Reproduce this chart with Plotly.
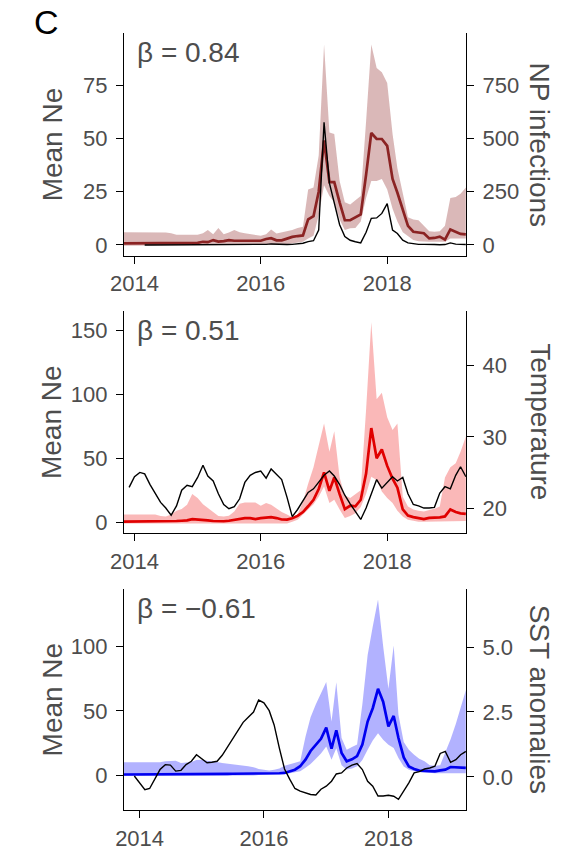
import pandas as pd
import plotly.graph_objects as go

# ---------------- time axes ----------------
months_a = pd.date_range("2013-11-01", periods=66, freq="MS")   # panels 1 and 2
months_b = pd.date_range("2013-10-01", periods=67, freq="MS")   # panel 3
year_ticks = ["2014-01-01", "2016-01-01", "2018-01-01"]
year_labels = ["2014", "2016", "2018"]

# ---------------- panel 1: NP infections ----------------
ne1_mean = [0.8, 0.8, 0.8, 0.8, 0.8, 0.8, 0.8, 0.8, 0.8, 0.8, 0.8, 0.8,
            0.9, 1.0, 1.0, 1.5, 1.3, 2.3, 1.6, 1.8, 2.3, 2.0, 2.0, 2.0, 2.0, 2.0,
            2.0, 2.8, 3.2, 2.2, 2.2, 3.0, 3.8, 4.2, 4.5, 12.0, 13.5, 25.0,
            49.0, 29.5, 29.5, 20.0, 11.6, 11.6, 13.0, 14.3, 33.0, 52.5, 49.7, 49.7,
            46.5, 31.0, 24.5, 17.0, 9.0, 6.2, 6.0, 5.5, 3.1, 3.3, 3.9, 2.5, 7.3, 6.0, 5.2, 5.0]
ne1_upper = [6.0, 6.0, 6.0, 6.0, 6.0, 6.0, 6.0, 6.0, 5.8, 5.5, 4.8, 4.8, 4.8, 4.8, 4.8,
             5.5, 7.0, 5.0, 8.0, 5.0, 5.8, 7.0, 6.0, 5.5, 5.0, 4.7, 4.3, 5.0, 7.3, 5.4,
             6.0, 6.5, 7.0, 8.0, 8.5, 26.0, 27.0, 42.0, 94.0, 52.8, 52.0, 30.0, 20.0, 19.0, 21.0,
             23.0, 58.0, 94.0, 83.0, 81.0, 76.0, 52.0, 36.0, 24.0, 13.0, 12.0, 11.6, 9.0, 6.5, 6.2,
             6.5, 9.0, 22.0, 22.5, 24.0, 27.0]
ne1_lower = [-0.3, -0.3, -0.3, -0.3, -0.3, -0.3, -0.3, -0.3, -0.3, -0.3, -0.3, -0.3, -0.3, -0.3, -0.3,
             -0.2, -0.2, -0.2, -0.2, -0.2, -0.2, -0.2, -0.2, -0.2, -0.2, -0.2, -0.2, -0.2, -0.2, -0.2,
             0.0, 0.3, 0.8, 1.0, 1.5, 3.0, 4.3, 14.0, 28.0, 23.0, 20.0, 12.0, 7.0, 7.8, 8.0,
             11.0, 22.0, 30.0, 30.0, 31.0, 26.0, 17.0, 11.0, 6.0, 4.0, 2.3, 1.8, 1.5, 1.5, 1.5,
             1.5, 1.5, 3.0, 3.0, 3.0, 3.0]
np_infections = [None, None, None, None,
                 0, 0, 0, 1, 1, 2, 1, 0, 1, 2, 3, 2, 1, 2, 3, 2, 1, 1, 2, 2, 1, 1, 2, 3, 5, 3, 2, 2, 3, 4,
                 8, 16, 20, 70, 575, 290, 190, 95, 40, 22, 15, 10, 60, 125, 127, 148, 194, 70, 54, 23,
                 10, 5, 3, 3, 1, 2, 1, 2, 10, 4, 3, 2]

# ---------------- panel 2: temperature ----------------
ne2_mean = [0.5, 0.5, 0.5, 0.5, 0.5, 0.5, 0.5, 0.5, 0.5, 0.7, 1.0, 1.2,
            1.5, 2.5, 2.3, 1.8, 1.5, 1.0, 0.8, 0.8, 1.2, 1.8, 2.5, 3.2,
            3.2, 2.5, 3.2, 3.5, 4.0, 3.3, 2.2, 2.1, 3.2, 5.0, 8.0, 12.5,
            17.6, 26.0, 39.0, 24.5, 35.0, 22.0, 10.3, 12.9, 12.4, 17.6, 38.0, 73.5,
            50.0, 56.8, 44.0, 34.0, 27.0, 10.0, 5.2, 4.0, 3.4, 2.5, 3.4, 3.6,
            3.9, 4.6, 10.0, 8.0, 7.0, 6.5]
ne2_upper = [6.0, 6.0, 6.0, 6.0, 6.0, 6.0, 6.0, 5.0, 4.6, 6.0, 9.0, 10.3,
             13.7, 22.0, 19.0, 14.0, 11.0, 7.5, 5.0, 4.6, 5.2, 8.5, 14.5, 15.5,
             15.5, 15.5, 13.0, 15.0, 13.7, 11.0, 8.0, 6.0, 4.0, 6.0, 16.0, 30.0,
             43.0, 60.0, 77.0, 55.0, 71.0, 35.0, 21.0, 19.0, 22.0, 25.0, 88.0, 156.0,
             96.0, 101.0, 82.0, 72.0, 77.0, 20.0, 12.4, 10.0, 9.0, 8.5, 9.5, 10.5,
             12.4, 35.0, 43.0, 46.0, 55.0, 67.0]
ne2_lower = [-1.0, -1.0, -1.0, -1.0, -1.0, -1.0, -1.0, -1.0, -1.0, -1.0, -1.0, -1.0,
             -1.0, -1.0, -1.0, -1.0, -1.0, -1.0, -1.0, -1.0, -1.0, -1.0, -1.0, -1.0,
             -1.0, -1.0, -1.0, -1.0, -1.0, -1.0, -1.0, -1.0, 0.5, 2.0, 6.0, 10.0,
             14.0, 20.0, 28.0, 15.0, 17.6, 10.0, 3.4, 5.0, 7.0, 12.0, 22.0, 35.6,
             33.0, 24.0, 19.0, 15.0, 9.0, 4.6, 2.0, 1.2, 0.5, 0.5, 0.5, 0.5,
             0.5, 0.5, 1.0, 1.0, 1.0, 1.0]
temperature = [None,
               22.9, 24.4, 25.0, 24.8, 23.3, 22.0, 20.8, 20.0, 19.0, 20.3, 22.5, 23.2, 23.0,
               24.3, 26.0, 24.5, 23.8, 22.0, 20.5, 19.9, 20.2, 21.3, 23.6, 24.6, 25.0, 25.2,
               24.2, 25.5, 24.7, 24.0, 21.5, 18.8, 19.8, 21.0, 22.2, 22.7, 23.7, 24.6, 25.2,
               24.5, 23.3, 21.8, 20.6, 19.6, 18.4, 20.0, 22.0, 24.0, 22.8, 23.6, 24.4, 23.8,
               24.3, 22.0, 20.5, 20.3, 20.0, 20.0, 20.1, 22.1, 23.0, 22.7, 24.6, 25.8, 24.4]

# ---------------- panel 3: SST anomalies ----------------
ne3_mean = [0.8, 0.8, 0.8, 0.8, 0.8, 0.8, 0.8, 0.8, 0.8, 0.8, 0.8, 1.0, 1.0,
            1.1, 1.1, 1.2, 1.2, 1.3, 1.3, 1.3, 1.3, 1.4, 1.4, 1.4, 1.4, 1.4,
            1.4, 1.4, 1.5, 1.5, 1.8, 2.0, 3.0, 4.5, 7.2, 12.3, 19.0, 24.0, 28.4,
            37.0, 20.7, 35.0, 17.4, 11.0, 12.5, 15.0, 24.0, 41.7, 52.0, 67.0, 57.0, 38.0,
            46.0, 29.0, 14.0, 7.0, 5.0, 3.8, 3.5, 3.3, 3.3, 4.0, 4.6, 6.6, 6.2,
            5.9, 5.9]
ne3_upper = [10.2, 10.2, 10.2, 10.2, 10.2, 10.2, 10.2, 10.2, 11.0, 11.5, 11.5, 9.7, 10.0,
             10.5, 12.0, 12.3, 11.5, 11.2, 10.5, 9.7, 9.3, 8.8, 8.4, 8.0, 7.2, 6.5,
             5.0, 4.4, 4.0, 4.5, 5.5, 7.5, 8.5, 10.0, 11.0, 30.0, 45.0, 55.0, 63.0,
             72.3, 41.7, 72.0, 29.0, 20.0, 22.0, 24.0, 55.0, 93.0, 115.0, 136.0, 100.0, 67.0,
             100.5, 47.0, 26.0, 20.0, 16.0, 13.0, 11.0, 8.0, 7.5, 8.0, 18.0, 28.0, 40.0,
             53.0, 66.0]
ne3_lower = [-0.3, -0.3, -0.3, -0.3, -0.3, -0.3, -0.3, -0.3, -0.3, -0.3, -0.3, -0.3, -0.3,
             0.0, 0.0, 0.0, 0.0, 0.0, 0.0, 0.0, 0.0, 0.0, 0.0, 0.0, 0.0, 0.0,
             0.5, 0.6, 0.7, 0.8, 1.0, 1.2, 1.8, 2.5, 3.3, 6.0, 9.0, 13.0, 17.0,
             22.5, 12.3, 21.0, 8.0, 4.6, 5.5, 7.2, 12.0, 20.0, 27.0, 32.7, 27.6, 23.8,
             21.2, 13.5, 7.0, 4.5, 3.3, 2.8, 2.4, 2.0, 1.8, 1.8, 1.8, 1.8, 1.8,
             1.8, 1.8]
sst_anomaly = [None, None,
               0.03, -0.25, -0.5, -0.45, -0.05, 0.28, 0.47, 0.45, 0.22, 0.25, 0.47, 0.6, 0.85,
               0.7, 0.54, 0.56, 0.6, 0.83, 1.15, 1.45, 1.8, 2.1, 2.3, 2.5, 2.96, 2.85,
               2.55, 2.0, 1.1, 0.3, -0.1, -0.45, -0.55, -0.62, -0.68, -0.7, -0.48, -0.36, -0.17,
               0.11, 0.15, 0.34, 0.45, 0.51, 0.28, -0.17, -0.36, -0.74, -0.74, -0.71, -0.75, -0.87,
               -0.57, -0.23, 0.15, 0.2, 0.3, 0.34, 0.41, 0.9, 0.98, 0.56, 0.66, 0.85, 0.98]

FONT = "Liberation Sans"
GREY = "#4D4D4D"

panels = [
    dict(x=months_a, lo=ne1_lower, hi=ne1_upper, mean=ne1_mean, aux=np_infections,
         line="#8B2323", fill="rgba(139,35,35,0.32)",
         xrange=["2013-11-01", "2019-04-01"], yl=[-5.1, 99.5], yr=[-51, 995],
         ltick=[0, 25, 50, 75], rtick=[0, 250, 500, 750], rtext=["0", "250", "500", "750"],
         dom=[0.6972, 0.9612], beta="β = 0.84", rtitle="NP infections"),
    dict(x=months_a, lo=ne2_lower, hi=ne2_upper, mean=ne2_mean, aux=temperature,
         line="#E00000", fill="rgba(240,40,40,0.33)",
         xrange=["2013-11-01", "2019-04-01"], yl=[-8.5, 165], yr=[16.47, 47.7],
         ltick=[0, 50, 100, 150], rtick=[20, 30, 40], rtext=["20", "30", "40"],
         dom=[0.3690, 0.6322], beta="β = 0.51", rtitle="Temperature"),
    dict(x=months_b, lo=ne3_lower, hi=ne3_upper, mean=ne3_mean, aux=sst_anomaly,
         line="#0000F0", fill="rgba(0,0,255,0.30)",
         xrange=["2013-10-01", "2019-04-01"], yl=[-26.8, 144.4], yr=[-1.29, 7.26],
         ltick=[0, 50, 100], rtick=[0, 2.5, 5.0], rtext=["0.0", "2.5", "5.0"],
         dom=[0.0411, 0.3035], beta="β = \u22120.61", rtitle="SST anomalies"),
]

fig = go.Figure()
layout = dict(width=569, height=851, margin=dict(l=0, r=0, t=0, b=0),
              paper_bgcolor="white", plot_bgcolor="white", showlegend=False,
              font=dict(family=FONT, color=GREY))
annotations = []
x_dom = [112.7 / 569, 463.3 / 569]
tickfont = dict(family=FONT, size=22, color=GREY)

for k, p in enumerate(panels, start=1):
    xa = "x" if k == 1 else f"x{k}"
    yl = "y" if k == 1 else f"y{2 * k - 1}"
    yr = f"y{2 * k}"
    # credible band
    fig.add_trace(go.Scatter(x=p["x"], y=p["lo"], mode="lines", line=dict(width=0),
                             xaxis=xa, yaxis=yl, hoverinfo="skip"))
    fig.add_trace(go.Scatter(x=p["x"], y=p["hi"], mode="lines", line=dict(width=0),
                             fill="tonexty", fillcolor=p["fill"], xaxis=xa, yaxis=yl,
                             hoverinfo="skip"))
    # mean Ne
    fig.add_trace(go.Scatter(x=p["x"], y=p["mean"], mode="lines",
                             line=dict(color=p["line"], width=2.7), xaxis=xa, yaxis=yl))
    # covariate on the secondary axis
    fig.add_trace(go.Scatter(x=p["x"], y=p["aux"], mode="lines",
                             line=dict(color="black", width=1.4), xaxis=xa, yaxis=yr))

    xkey = "xaxis" if k == 1 else f"xaxis{k}"
    ylkey = "yaxis" if k == 1 else f"yaxis{2 * k - 1}"
    yrkey = f"yaxis{2 * k}"
    layout[xkey] = dict(domain=x_dom, anchor=yl, type="date", range=p["xrange"],
                        tickvals=year_ticks, ticktext=year_labels, showgrid=False,
                        zeroline=False, showline=True, linecolor="black", linewidth=1.3,
                        ticks="outside", ticklen=7, tickwidth=1.3, tickcolor="black",
                        tickfont=tickfont, ticklabelstandoff=1)
    layout[ylkey] = dict(domain=p["dom"], anchor=xa, range=p["yl"], tickvals=p["ltick"],
                         showgrid=False, zeroline=False, showline=True, linecolor="black",
                         linewidth=1.3, ticks="outside", ticklen=7, tickwidth=1.3,
                         tickcolor="black", tickfont=tickfont, ticklabelstandoff=4)
    layout[yrkey] = dict(overlaying=yl, side="right", anchor=xa, range=p["yr"],
                         tickvals=p["rtick"], ticktext=p["rtext"], showgrid=False,
                         zeroline=False, showline=True, linecolor="black", linewidth=1.3,
                         ticks="outside", ticklen=7, tickwidth=1.3, tickcolor="black",
                         tickfont=tickfont, ticklabelstandoff=4)

    mid = (p["dom"][0] + p["dom"][1]) / 2
    annotations.append(dict(text="Mean Ne", x=39 / 569, y=mid, xref="paper", yref="paper",
                            textangle=-90, showarrow=False, xanchor="center", yanchor="middle",
                            font=dict(family=FONT, size=28, color=GREY)))
    annotations.append(dict(text=p["rtitle"], x=539 / 569, y=mid, xref="paper", yref="paper",
                            textangle=90, showarrow=False, xanchor="center", yanchor="middle",
                            font=dict(family=FONT, size=28, color=GREY)))
    annotations.append(dict(text=p["beta"], x=124 / 569, y=p["dom"][1] - 2 / 851,
                            xref="paper", yref="paper", showarrow=False,
                            xanchor="left", yanchor="top",
                            font=dict(family=FONT, size=28, color=GREY)))

annotations.append(dict(text="C", x=18 / 569, y=1 - 1 / 851, xref="paper", yref="paper",
                        showarrow=False, xanchor="left", yanchor="top",
                        font=dict(family=FONT, size=34, color="black")))
layout["annotations"] = annotations
fig.update_layout(**layout)
fig.write_html("out.html")
